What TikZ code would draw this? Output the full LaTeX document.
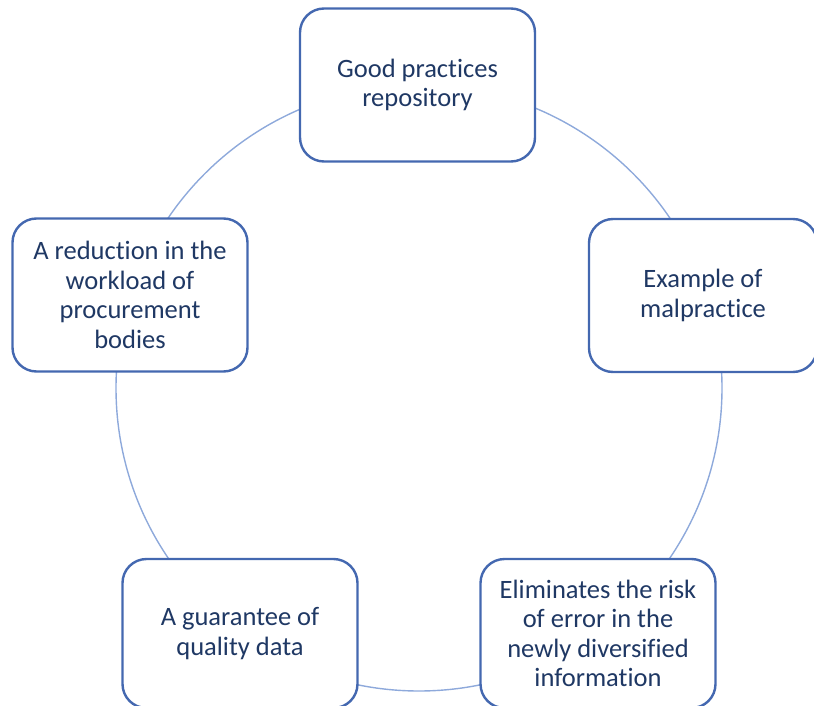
\documentclass[tikz,border=0pt]{standalone}
\usepackage{fontspec}
\setmainfont{Carlito}[Ligatures=NoCommon]
\definecolor{boxline}{HTML}{4468B0}
\definecolor{ringline}{HTML}{8EA9DB}
\definecolor{textnavy}{HTML}{1F3864}
\tikzset{
  cyclebox/.style={draw=boxline, line width=2.4pt, fill=white, rounded corners=24pt,
    minimum width=235pt, minimum height=153pt, inner sep=0pt,
    text=textnavy, align=center, font=\fontsize{26.5}{29.5}\selectfont},
  ring/.style={draw=ringline, line width=1.4pt}
}
\begin{document}
\begin{tikzpicture}[x=1pt,y=-1pt]
  \useasboundingbox (0,0) rectangle (814,706);
  \clip (0,0) rectangle (814,706);
  \coordinate (c) at (419,388);
  \draw[ring] (c) circle[radius=303pt];
  \node[cyclebox] (top) at (417.5,85) {Good practices\\repository};
  \node[cyclebox, minimum width=228pt] (right) at (703,295.5) {Example of\\malpractice};
  \node[cyclebox, minimum height=149pt] (brt) at (598,633.5) {Eliminates the risk\\of error in the\\newly diversified\\information};
  \node[cyclebox, minimum height=149pt] (blt) at (240,633.5) {A guarantee of\\quality data};
  \node[cyclebox] (left) at (130,295) {A reduction in the\\workload of\\procurement\\bodies};
\end{tikzpicture}
\end{document}
